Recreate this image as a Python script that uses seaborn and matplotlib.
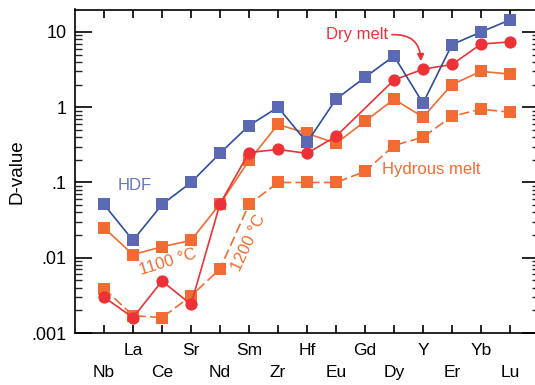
import numpy as np
import pandas as pd
import matplotlib
matplotlib.use("Agg")
import matplotlib.pyplot as plt
import seaborn as sns
from matplotlib.ticker import FixedLocator, FixedFormatter, LogLocator, NullFormatter

elements = ["Nb", "La", "Ce", "Sr", "Nd", "Sm", "Zr", "Hf", "Eu", "Gd", "Dy", "Y", "Er", "Yb", "Lu"]
hdf = [0.051, 0.017, 0.051, 0.10, 0.245, 0.57, 1.0, 0.34, 1.28, 2.5, 4.8, 1.13, 6.8, 10.0, 14.5]
dry_melt = [0.0030, 0.0016, 0.0049, 0.0024, 0.052, 0.25, 0.275, 0.244, 0.41, np.nan, 2.3, 3.2, 3.7, 6.9, 7.4]
hyd_1100 = [0.025, 0.011, 0.014, 0.017, 0.052, 0.196, 0.59, 0.45, 0.33, 0.65, 1.28, 0.74, 2.0, 3.0, 2.75]
hyd_1200 = [0.0039, 0.0017, 0.0016, 0.0031, 0.0071, 0.051, 0.10, 0.10, 0.10, 0.14, 0.31, 0.40, 0.76, 0.94, 0.86]
ytick_vals = [0.001, 0.01, 0.1, 1, 10]
ytick_labels = [".001", ".01", ".1", "1", "10"]

BLUE_M = "#5B68B4"
BLUE_L = "#2D4E9E"
RED = "#EC3237"
ORANGE = "#F26B32"

sns.set_theme(style="white")
plt.rcParams["font.family"] = ["Liberation Sans", "DejaVu Sans"]

fig = plt.figure(figsize=(5.35, 3.85), dpi=100)
ax = fig.add_axes([75/535, (385-333)/385, (539-75)/535, (333-9.5)/385])

x = np.arange(len(elements))
df = pd.DataFrame({"x": x, "hdf": hdf, "dry": dry_melt, "h1100": hyd_1100, "h1200": hyd_1200})

common = dict(linewidth=1.2, markeredgewidth=0, ax=ax, legend=False)
sns.lineplot(data=df, x="x", y="h1200", color=ORANGE, marker="s", markersize=8.3,
             markerfacecolor=ORANGE, markeredgecolor=ORANGE, linestyle=(0, (6, 2.5)), **common)
sns.lineplot(data=df, x="x", y="h1100", color=ORANGE, marker="s", markersize=8.3,
             markerfacecolor=ORANGE, markeredgecolor=ORANGE, **common)
sns.lineplot(data=df.dropna(), x="x", y="dry", color=RED, marker="o", markersize=8.8,
             markerfacecolor=RED, markeredgecolor=RED, **common)
sns.lineplot(data=df, x="x", y="hdf", color=BLUE_L, marker="s", markersize=8.3,
             markerfacecolor=BLUE_M, markeredgecolor=BLUE_M, **common)

ax.set_yscale("log")
ax.set_ylim(0.001, 10**(1 + 22.5/75.3))
ax.set_xlim(-1, 15)

ax.yaxis.set_major_locator(FixedLocator(ytick_vals))
ax.yaxis.set_major_formatter(FixedFormatter(ytick_labels))
ax.yaxis.set_minor_locator(LogLocator(base=10, subs=np.arange(2, 10), numticks=20))
ax.yaxis.set_minor_formatter(NullFormatter())

ax.set_xticks(x)
ax.set_xticklabels([("\n" + e) if i % 2 == 0 else e for i, e in enumerate(elements)])
for t in ax.get_xticklabels():
    t.set_linespacing(1.6)

for s in ax.spines.values():
    s.set_color("black")
    s.set_linewidth(1.2)

ax.tick_params(axis="y", which="major", direction="in", length=12, width=1.2,
               left=True, right=True, labelsize=13, pad=6, colors="black")
ax.tick_params(axis="y", which="minor", direction="in", length=5, width=1.0,
               left=True, right=True)
ax.tick_params(axis="x", which="major", direction="in", length=6, width=1.2,
               bottom=True, top=True, labelsize=12.5, pad=7, colors="black")
ax.tick_params(axis="x", which="minor", bottom=False, top=False)

ax.set_xlabel("")
ax.set_ylabel("D-value", fontsize=13.5, color="black", labelpad=4)
ax.grid(False)

ax.text(1.07, 0.091, "HDF", color="#6674BE", fontsize=12, ha="center", va="center")
ax.text(8.72, 9.2, "Dry melt", color=RED, fontsize=12, ha="center", va="center")
ax.annotate("", xy=(10.93, 4.1), xytext=(9.93, 9.2),
            arrowprops=dict(arrowstyle="-|>", color=RED, lw=1.2,
                            connectionstyle="arc3,rad=-0.5", shrinkA=0, shrinkB=0,
                            mutation_scale=10))
ax.text(11.29, 0.15, "Hydrous melt", color=ORANGE, fontsize=12, ha="center", va="center")
ax.text(2.2, 0.0088, "1100 °C", color=ORANGE, fontsize=12, ha="center", va="center", rotation=17)
ax.text(5.0, 0.0157, "1200 °C", color=ORANGE, fontsize=12, ha="center", va="center", rotation=65)

fig.savefig("out.png", dpi=100)
